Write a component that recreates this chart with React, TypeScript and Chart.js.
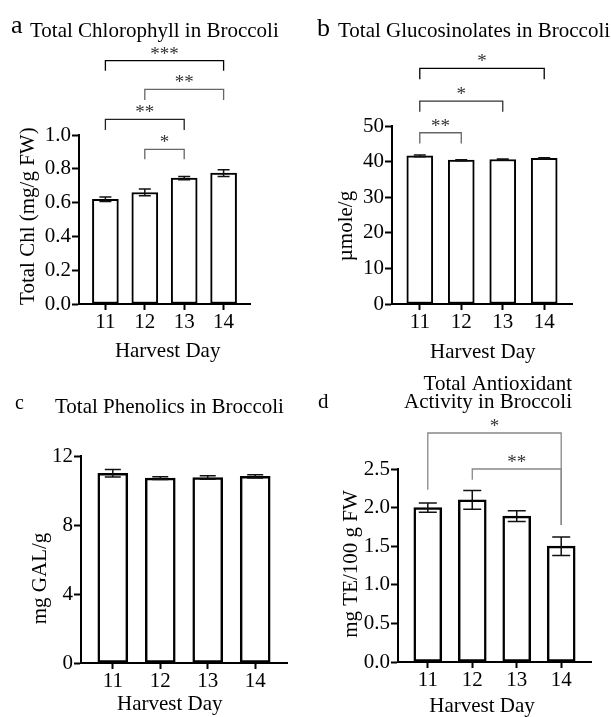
import React, { useEffect, useRef } from 'react';
import { Chart, registerables } from 'chart.js';

Chart.register(...registerables);

// ---------- data ----------
const harvestDays = [11, 12, 13, 14];

const chlMean = [0.62, 0.66, 0.745, 0.775];
const chlErr = [0.013, 0.02, 0.01, 0.02];
const chlTicks = [0, 0.2, 0.4, 0.6, 0.8, 1.0];
const chlBrackets = [
  { from: 11, to: 14, y: 1.44, leftEnd: 1.38, rightEnd: 1.38, label: '***' },
  { from: 12, to: 14, y: 1.27, leftEnd: 1.207, rightEnd: 1.207, label: '**' },
  { from: 11, to: 13, y: 1.093, leftEnd: 1.03, rightEnd: 1.03, label: '**' },
  { from: 12, to: 13, y: 0.915, leftEnd: 0.856, rightEnd: 0.856, label: '*' },
];

const glsMean = [41.6, 40.4, 40.6, 40.9];
const glsErr = [0.25, 0.15, 0.15, 0.15];
const glsTicks = [0, 10, 20, 30, 40, 50];
const glsBrackets = [
  { from: 11, to: 14, y: 66.2, leftEnd: 63.1, rightEnd: 63.1, label: '*' },
  { from: 11, to: 13, y: 57.0, leftEnd: 54.0, rightEnd: 54.0, label: '*' },
  { from: 11, to: 12, y: 48.1, leftEnd: 45.1, rightEnd: 45.1, label: '**' },
];

const phenMean = [11.0, 10.72, 10.75, 10.82];
const phenErr = [0.22, 0.08, 0.1, 0.1];
const phenTicks = [0, 4, 8, 12];
const phenBrackets: any[] = [];

const antiMean = [2.0, 2.1, 1.89, 1.5];
const antiErr = [0.06, 0.12, 0.07, 0.12];
const antiTicks = [0, 0.5, 1.0, 1.5, 2.0, 2.5];
const antiBrackets = [
  { from: 11, to: 14, y: 2.966, leftEnd: 2.23, rightEnd: 1.775, label: '*' },
  { from: 12, to: 14, y: 2.5, leftEnd: 2.36, rightEnd: 1.775, label: '**' },
];

// ---------- layout / style ----------
const W = 611;
const H = 717;
const FONT = "'Liberation Serif', 'Times New Roman', serif";
const AXIS_W = 60;
const AXIS_H = 40;
const TEXT_SIZE = 21;

const panels = [
  {
    means: chlMean, errs: chlErr, ticks: chlTicks, decimals: 1, brackets: chlBrackets,
    bracketColors: ['#000', '#666', '#222', '#666'],
    area: { left: 79, right: 250, top: 135, bottom: 304 },
    barWidth: 26, capWidth: 12, barBorder: 2,
    xTitle: 'Harvest Day', xTitleAt: 12.58, xTitleY: 357,
    yTitle: 'Total Chl (mg/g FW)', yTitleAt: 0.52, yTitleX: 34,
    letter: { text: 'a', x: 11, y: 33, size: 26 },
    titleLines: [{ text: 'Total Chlorophyll in Broccoli', x: 30, y: 37, align: 'left' }],
  },
  {
    means: glsMean, errs: glsErr, ticks: glsTicks, decimals: 0, brackets: glsBrackets,
    bracketColors: ['#000', '#333', '#666'],
    area: { left: 392, right: 572, top: 126, bottom: 304 },
    barWidth: 26, capWidth: 12, barBorder: 2,
    xTitle: 'Harvest Day', xTitleAt: 12.52, xTitleY: 358,
    yTitle: 'µmole/g', yTitleAt: 21.9, yTitleX: 352,
    letter: { text: 'b', x: 317, y: 36, size: 26 },
    titleLines: [{ text: 'Total Glucosinolates in Broccoli', x: 338, y: 37, align: 'left' }],
  },
  {
    means: phenMean, errs: phenErr, ticks: phenTicks, decimals: 0, brackets: phenBrackets,
    bracketColors: [],
    area: { left: 81, right: 287, top: 456, bottom: 663 },
    barWidth: 30, capWidth: 16, barBorder: 2.5,
    xTitle: 'Harvest Day', xTitleAt: 12.2, xTitleY: 710,
    yTitle: 'mg GAL/g', yTitleAt: 4.9, yTitleX: 46,
    letter: { text: 'c', x: 15, y: 409, size: 20 },
    titleLines: [{ text: 'Total Phenolics in Broccoli', x: 55, y: 413, align: 'left' }],
  },
  {
    means: antiMean, errs: antiErr, ticks: antiTicks, decimals: 1, brackets: antiBrackets,
    bracketColors: ['#888', '#888'],
    area: { left: 398, right: 591, top: 469, bottom: 662 },
    barWidth: 28, capWidth: 18, barBorder: 2.5,
    xTitle: 'Harvest Day', xTitleAt: 12.22, xTitleY: 712,
    yTitle: 'mg TE/100 g FW', yTitleAt: 1.27, yTitleX: 357,
    letter: { text: 'd', x: 318, y: 408, size: 21 },
    titleLines: [
      { text: 'Total Antioxidant', x: 572, y: 390, align: 'right' },
      { text: 'Activity in Broccoli', x: 572, y: 408, align: 'right' },
    ],
  },
];

function makeOverlay(p: any) {
  return {
    id: 'overlay',
    afterDatasetsDraw(chart: any) {
      const ctx = chart.ctx;
      const ys = chart.scales.y;
      const meta = chart.getDatasetMeta(0);
      ctx.save();
      ctx.strokeStyle = '#111';
      ctx.lineWidth = 1.5;
      meta.data.forEach((el: any, i: number) => {
        const x = el.x;
        const t = ys.getPixelForValue(p.means[i] + p.errs[i]);
        const b = ys.getPixelForValue(p.means[i] - p.errs[i]);
        const hw = p.capWidth / 2;
        ctx.beginPath();
        ctx.moveTo(x, t); ctx.lineTo(x, b);
        ctx.moveTo(x - hw, t); ctx.lineTo(x + hw, t);
        ctx.moveTo(x - hw, b); ctx.lineTo(x + hw, b);
        ctx.stroke();
      });
      ctx.restore();
    },
    afterDraw(chart: any) {
      const ctx = chart.ctx;
      const xs = chart.scales.x;
      const ys = chart.scales.y;
      ctx.save();
      // significance brackets
      p.brackets.forEach((br: any, i: number) => {
        const x1 = xs.getPixelForValue(br.from);
        const x2 = xs.getPixelForValue(br.to);
        const yl = ys.getPixelForValue(br.y);
        const y1 = ys.getPixelForValue(br.leftEnd);
        const y2 = ys.getPixelForValue(br.rightEnd);
        ctx.strokeStyle = p.bracketColors[i] || '#000';
        ctx.lineWidth = 1.3;
        ctx.beginPath();
        ctx.moveTo(x1, y1); ctx.lineTo(x1, yl); ctx.lineTo(x2, yl); ctx.lineTo(x2, y2);
        ctx.stroke();
        ctx.fillStyle = '#333';
        ctx.font = `19px ${FONT}`;
        ctx.textAlign = 'center';
        ctx.textBaseline = 'alphabetic';
        ctx.fillText(br.label, (x1 + x2) / 2, yl - 1);
      });
      ctx.fillStyle = '#000';
      ctx.textBaseline = 'alphabetic';
      // x title
      ctx.font = `${TEXT_SIZE}px ${FONT}`;
      ctx.textAlign = 'center';
      ctx.fillText(p.xTitle, xs.getPixelForValue(p.xTitleAt), p.xTitleY);
      // y title
      ctx.save();
      ctx.translate(p.yTitleX, ys.getPixelForValue(p.yTitleAt));
      ctx.rotate(-Math.PI / 2);
      ctx.textAlign = 'center';
      ctx.fillText(p.yTitle, 0, 0);
      ctx.restore();
      // panel letter and title
      ctx.font = `${p.letter.size}px ${FONT}`;
      ctx.textAlign = 'left';
      ctx.fillText(p.letter.text, p.letter.x, p.letter.y);
      ctx.font = `${TEXT_SIZE}px ${FONT}`;
      p.titleLines.forEach((l: any) => {
        ctx.textAlign = l.align;
        ctx.fillText(l.text, l.x, l.y);
      });
      ctx.restore();
    },
  };
}

function Panel({ p }: { p: any }) {
  const ref = useRef<HTMLCanvasElement>(null);
  useEffect(() => {
    if (!ref.current) return;
    const a = p.area;
    const chart = new Chart(ref.current, {
      type: 'bar',
      data: {
        datasets: [
          {
            data: harvestDays.map((d, i) => ({ x: d, y: p.means[i] })),
            backgroundColor: '#fff',
            borderColor: '#000',
            borderWidth: p.barBorder,
            borderSkipped: false,
            barThickness: p.barWidth,
          } as any,
        ],
      },
      options: {
        animation: false,
        responsive: false,
        events: [],
        layout: {
          padding: {
            left: a.left - AXIS_W,
            right: W - a.right,
            top: a.top,
            bottom: H - a.bottom - AXIS_H,
          },
        },
        plugins: { legend: { display: false }, tooltip: { enabled: false }, title: { display: false } },
        scales: {
          x: {
            type: 'linear',
            min: 10.33,
            max: 14.67,
            offset: false,
            afterFit: (s: any) => { s.height = AXIS_H; },
            afterBuildTicks: (s: any) => { s.ticks = harvestDays.map((v) => ({ value: v })); },
            grid: { display: true, offset: false, drawOnChartArea: false, drawTicks: true, tickLength: 6, tickColor: '#000', tickWidth: 2 },
            border: { display: true, color: '#000', width: 2 },
            ticks: { color: '#000', font: { family: FONT, size: TEXT_SIZE }, padding: 0, callback: (v: any) => String(v) },
          },
          y: {
            type: 'linear',
            min: p.ticks[0],
            max: p.ticks[p.ticks.length - 1],
            afterFit: (s: any) => { s.width = AXIS_W; },
            afterBuildTicks: (s: any) => { s.ticks = p.ticks.map((v: number) => ({ value: v })); },
            grid: { display: true, drawOnChartArea: false, drawTicks: true, tickLength: 7, tickColor: '#000', tickWidth: 2 },
            border: { display: true, color: '#000', width: 2 },
            ticks: { color: '#000', font: { family: FONT, size: TEXT_SIZE }, padding: 1, callback: (v: any) => Number(v).toFixed(p.decimals) },
          },
        },
      } as any,
      plugins: [makeOverlay(p)],
    });
    return () => chart.destroy();
  }, [p]);
  return (
    <canvas
      ref={ref}
      width={W}
      height={H}
      style={{ position: 'absolute', left: 0, top: 0, width: W, height: H }}
    />
  );
}

export default function App() {
  return (
    <div style={{ position: 'fixed', left: 0, top: 0, width: W, height: H, background: '#fff' }}>
      {panels.map((p, i) => (
        <Panel key={i} p={p} />
      ))}
    </div>
  );
}
